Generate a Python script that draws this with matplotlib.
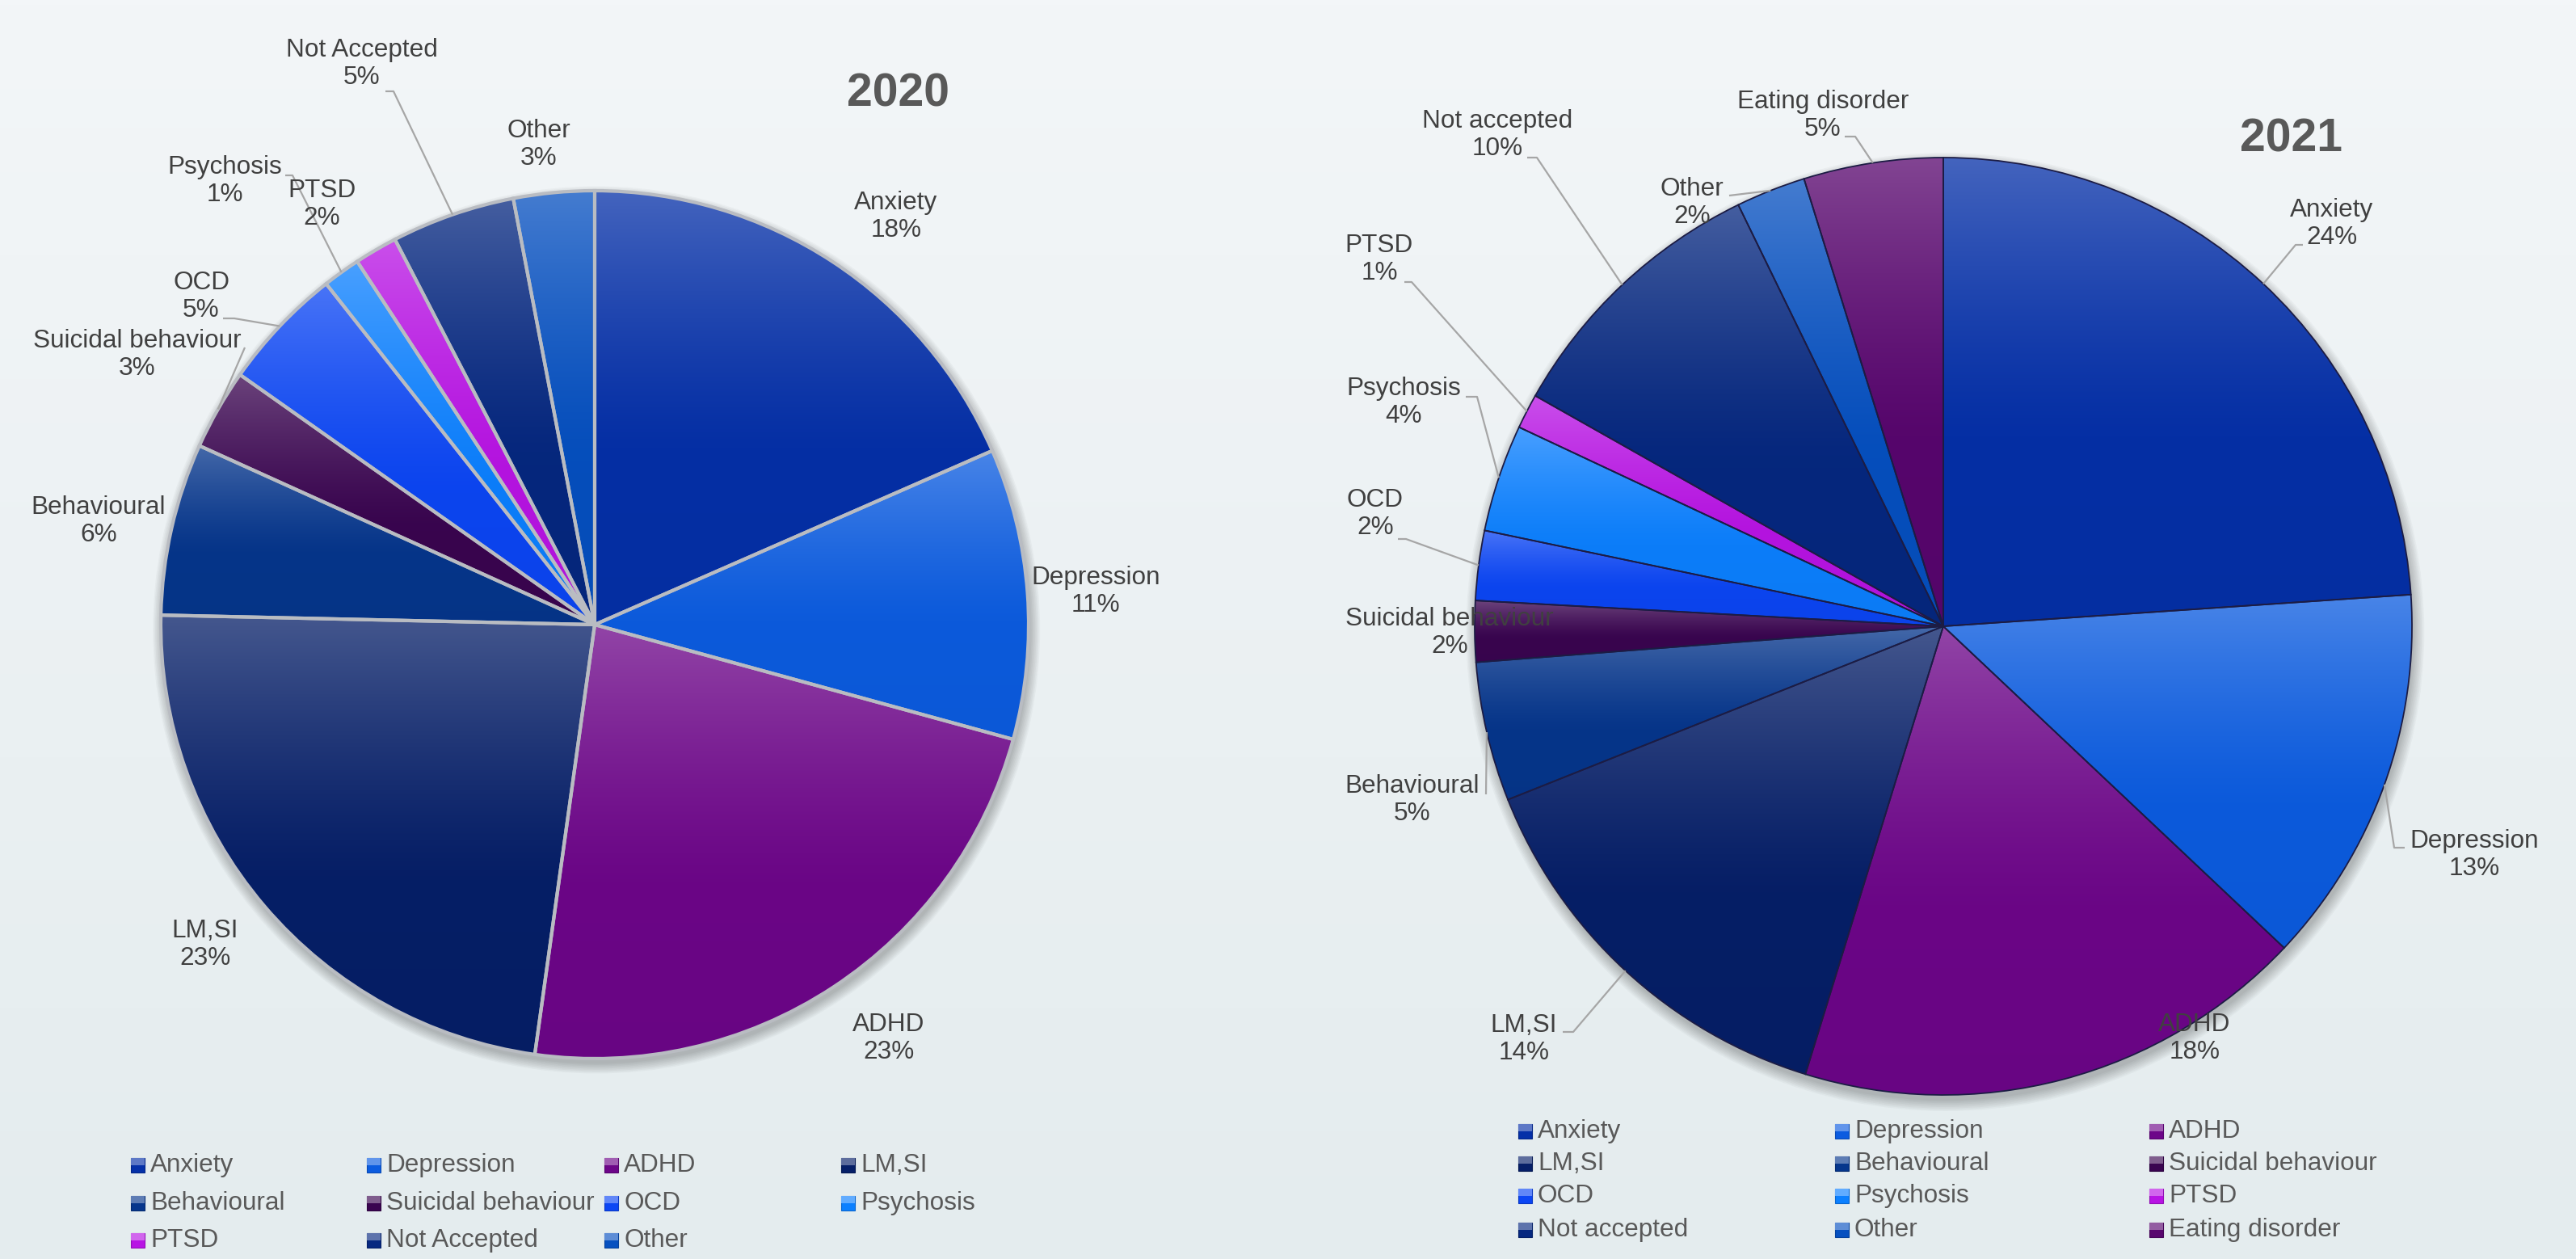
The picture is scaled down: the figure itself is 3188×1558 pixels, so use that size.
import numpy as np
import matplotlib
matplotlib.use("Agg")
import matplotlib.pyplot as plt
from matplotlib.patches import Rectangle, Circle
from matplotlib.colors import to_rgb

plt.rcParams['font.family'] = ['Liberation Sans', 'DejaVu Sans']

# ---------------- data ----------------
cats_2020 = ["Anxiety", "Depression", "ADHD", "LM,SI", "Behavioural",
             "Suicidal behaviour", "OCD", "Psychosis", "PTSD", "Not Accepted", "Other"]
vals_2020 = [18.4, 10.8, 22.9, 23.1, 6.4, 3.0, 4.6, 1.4, 1.6, 4.6, 3.0]

cats_2021 = ["Anxiety", "Depression", "ADHD", "LM,SI", "Behavioural",
             "Suicidal behaviour", "OCD", "Psychosis", "PTSD", "Not accepted",
             "Other", "Eating disorder"]
vals_2021 = [23.9, 13.1, 17.7, 14.2, 4.8, 2.1, 2.4, 3.7, 1.2, 9.6, 2.4, 4.8]

titles = ["2020", "2021"]

# ---------------- styles ----------------
base_colors = {
    "Anxiety": "#0530a8", "Depression": "#0c5ce0", "ADHD": "#6d0689",
    "LM,SI": "#061f68", "Behavioural": "#06368c", "Suicidal behaviour": "#3a0550",
    "OCD": "#0c46f4", "Psychosis": "#0c80ff", "PTSD": "#b814e4",
    "Not Accepted": "#062880", "Not accepted": "#062880", "Other": "#0650c0",
    "Eating disorder": "#58066e",
}

W, H = 3188, 1558
fig = plt.figure(figsize=(W / 100, H / 100), dpi=100)

# background gradient
bg = fig.add_axes([0, 0, 1, 1], zorder=0)
top_c = np.array(to_rgb("#f3f6f8"))
bot_c = np.array(to_rgb("#e4ecee"))
t = np.linspace(0, 1, 256)[:, None, None]
bg.imshow(top_c * (1 - t) + bot_c * t, aspect="auto", extent=[0, 1, 0, 1])
bg.axis("off")

# layout (pixel positions in full figure)
layout = {
    "2020": dict(cx=736, cy=773, R=537, edge="#b9bcc2", lw=3.0,
                 title_xy=(1111, 116),
                 labels=[(1109, 268), (1356, 732), (1100, 1285), (254, 1169),
                         (122, 645), (170, 439), (249, 367), (278, 224),
                         (398, 253), (448, 79), (667, 179)],
                 leaders={9: [(477, 113), (487, 113)], 7: [(353, 217), (362, 217)],
                          6: [(276, 394), (290, 394)], 5: [(303, 430)]},
                 legend_x=[162, 454, 748, 1041], legend_y=[1442, 1489, 1535]),
    "2021": dict(cx=2405, cy=775, R=580, edge="#1c1c44", lw=1.3,
                 title_xy=(2835, 172),
                 labels=[(2886, 277), (3062, 1058), (2716, 1285), (1886, 1286),
                         (1748, 990), (1794, 783), (1702, 636), (1737, 498),
                         (1707, 321), (1853, 167), (2094, 251), (2256, 143)],
                 leaders={0: [(2850, 303), (2841, 303)], 1: [(2976, 1049), (2963, 1049)],
                          3: [(1934, 1277), (1947, 1277)], 4: [(1839, 983)],
                          6: [(1730, 667), (1740, 667)], 7: [(1814, 491), (1828, 491)],
                          8: [(1738, 349), (1747, 349)], 9: [(1890, 195), (1902, 195)],
                          10: [(2140, 242)], 11: [(2283, 169), (2296, 169)]},
                 legend_x=[1879, 2271, 2660], legend_y=[1400, 1440, 1480, 1522]),
}

FS = 22.7
LABEL_C = "#404040"
LEG_C = "#595959"


def mix(c, other, f):
    c = np.array(to_rgb(c)); o = np.array(to_rgb(other))
    return c * (1 - f) + o * f


def draw_pie(title, cats, vals, ncol):
    L = layout[title]
    cx, cy, R = L["cx"], L["cy"], L["R"]
    ax = fig.add_axes([0, 0, 1, 1], zorder=2)
    ax.patch.set_alpha(0)
    px2d = lambda px, py: ((px - cx) / R, (cy - py) / R)
    xlim = (-cx / R, (W - cx) / R)
    ylim = (-(H - cy) / R, cy / R)

    # soft shadow
    for i in range(9):
        ax.add_patch(Circle((0.004, -0.012), 1.0 + 0.0028 * i, color="black",
                            alpha=0.028, lw=0, zorder=1))

    colors = [base_colors[c] for c in cats]
    wedges, _ = ax.pie(vals, startangle=90, counterclock=False, colors=colors,
                       radius=1.0, center=(0, 0),
                       wedgeprops=dict(edgecolor=L["edge"], linewidth=L["lw"]))
    tot = sum(vals)
    for w, c in zip(wedges, colors):
        w.set_zorder(3)
        w.set_facecolor("none")
        ext = w.get_path().get_extents()
        n = 200
        tt = np.linspace(0, 1, n)
        f = 0.25 * np.clip(1 - tt / 0.6, 0, 1) ** 1.3
        base = np.array(to_rgb(c))
        grad = base[None, :] * (1 - f[:, None]) + f[:, None]
        grad = grad * (1 - 0.04 * tt[:, None])
        grad = grad[:, None, :]
        im = ax.imshow(grad, extent=[ext.x0, ext.x1, ext.y0, ext.y1],
                       origin="upper", aspect="auto", interpolation="bilinear", zorder=2)
        im.set_clip_path(w)

    # labels
    for i, (name, v) in enumerate(zip(cats, vals)):
        pct = int(round(100 * v / tot))
        lx, ly = px2d(*L["labels"][i])
        ax.text(lx, ly, f"{name}\n{pct}%", ha="center", va="center", fontsize=FS,
                color=LABEL_C, linespacing=1.17, zorder=6)
    # leader lines
    for i, pts in L["leaders"].items():
        w = wedges[i]
        mid = np.deg2rad((w.theta1 + w.theta2) / 2)
        xs = [px2d(*p)[0] for p in pts] + [np.cos(mid)]
        ys = [px2d(*p)[1] for p in pts] + [np.sin(mid)]
        ax.plot(xs, ys, color="#a6a6a6", lw=1.6, zorder=5, solid_capstyle="butt")

    ax.set_aspect("auto")
    ax.set_xlim(*xlim)
    ax.set_ylim(*ylim)
    ax.axis("off")

    # title
    tx, ty = L["title_xy"]
    fig.text(tx / W, 1 - ty / H, title, ha="center", va="center", fontsize=41,
             fontweight="bold", color="#595959", zorder=7)

    # legend (row-major)
    for k, name in enumerate(cats):
        r, col = divmod(k, ncol)
        mx = L["legend_x"][col]
        my = L["legend_y"][r]
        c = base_colors[name]
        fig.patches.append(Rectangle((mx / W, 1 - (my + 9) / H), 17 / W, 18 / H,
                                     transform=fig.transFigure, facecolor=c,
                                     edgecolor=mix(c, "black", 0.2), lw=0.8, zorder=8))
        fig.patches.append(Rectangle((mx / W, 1 - (my + 0) / H), 17 / W, 9 / H,
                                     transform=fig.transFigure,
                                     facecolor=mix(c, "white", 0.35), lw=0, zorder=8))
        fig.text((mx + 24) / W, 1 - my / H, name, ha="left", va="center",
                 fontsize=FS, color=LEG_C, zorder=9)


draw_pie("2020", cats_2020, vals_2020, 4)
draw_pie("2021", cats_2021, vals_2021, 3)

fig.savefig("out.png", dpi=100)
